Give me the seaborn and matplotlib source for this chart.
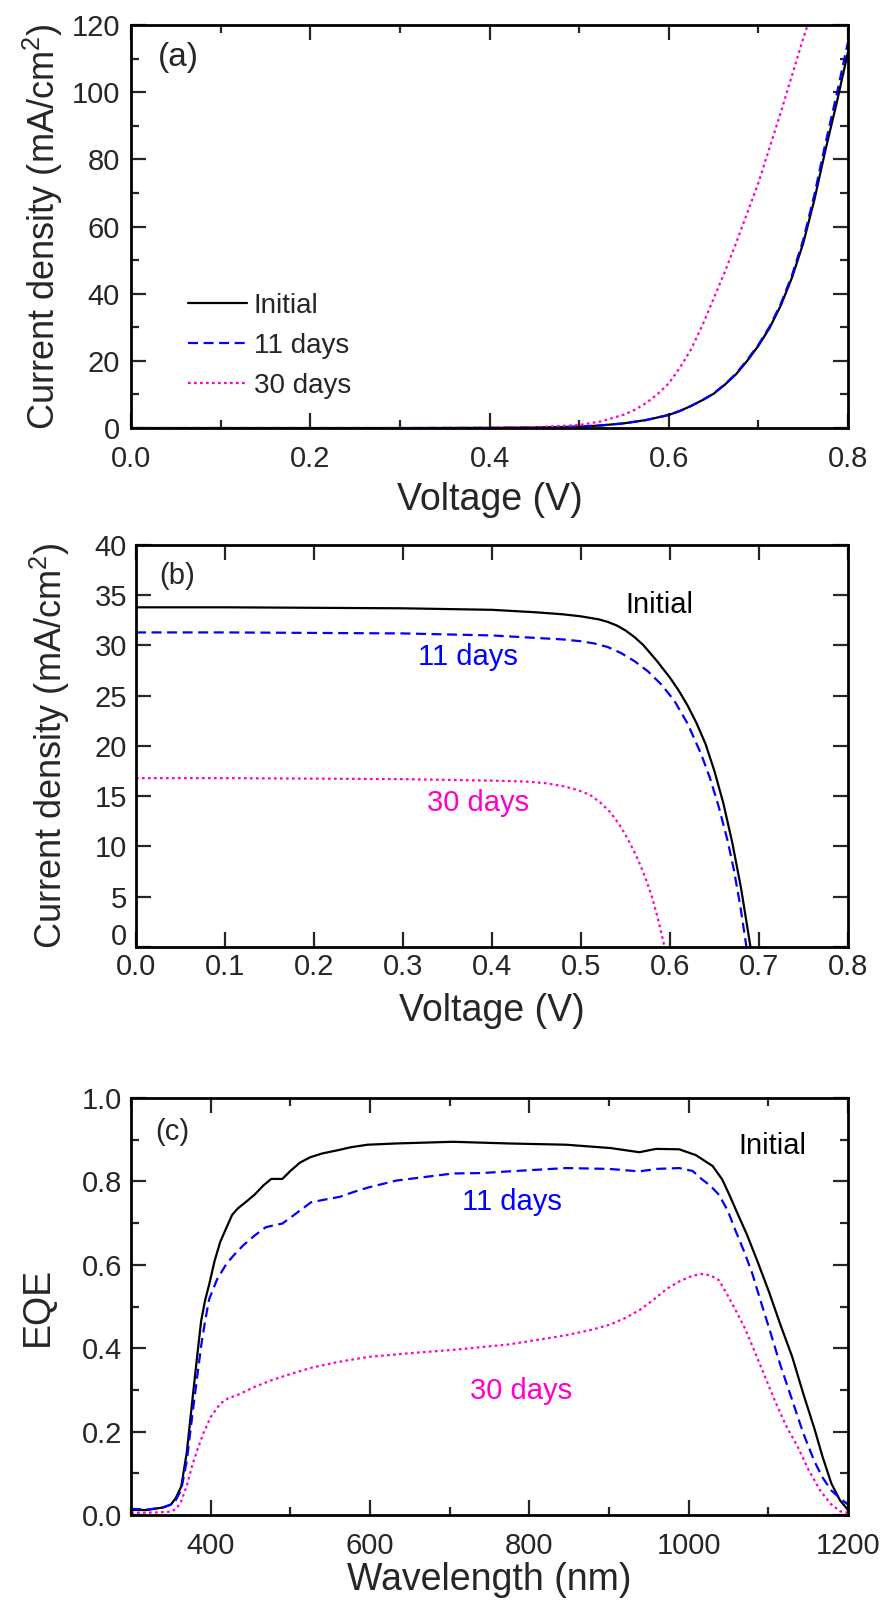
import numpy as np
import pandas as pd
import matplotlib
matplotlib.use("Agg")
import matplotlib.pyplot as plt
import matplotlib.transforms as mtransforms
import seaborn as sns
from matplotlib.ticker import MultipleLocator, FormatStrFormatter

# dark J-V (panel a)
v_dark = [0.0, 0.1, 0.2, 0.3, 0.4, 0.45, 0.5, 0.525, 0.55, 0.575, 0.6, 0.6125, 0.625, 0.6375, 0.65, 0.6625, 0.675,
          0.6875, 0.7, 0.7125, 0.725, 0.7375, 0.75, 0.7625, 0.775, 0.7875, 0.8]
j_dark_init = [0.0, 0.0, 0.0, 0.0, 0.05, 0.15, 0.4, 0.8, 1.4, 2.4, 3.9, 5.1, 6.6, 8.3, 10.2, 12.9, 16.0,
               20.0, 24.5, 29.8, 36.5, 44.8, 55.0, 68.0, 83.0, 97.0, 112.0]
j_dark_11 = [0.0, 0.0, 0.0, 0.0, 0.05, 0.15, 0.4, 0.8, 1.4, 2.4, 3.9, 5.1, 6.6, 8.3, 10.3, 13.0, 16.2,
             20.3, 24.8, 30.2, 37.0, 45.5, 56.0, 69.5, 85.0, 99.5, 115.0]
v_dark30 = [0.0, 0.1, 0.2, 0.3, 0.4, 0.45, 0.5, 0.525, 0.55, 0.5625, 0.575, 0.5875, 0.6, 0.6125, 0.625, 0.6375,
            0.65, 0.6625, 0.675, 0.6875, 0.7, 0.7125, 0.725, 0.7375, 0.75, 0.755]
j_dark_30 = [0.0, 0.0, 0.0, 0.0, 0.08, 0.25, 0.9, 2.0, 4.0, 5.5, 7.5, 10.1, 13.3, 18.0, 23.5, 30.6,
             38.5, 46.5, 55.0, 64.0, 73.0, 83.5, 94.0, 105.0, 116.0, 120.0]

# illuminated J-V (panel b)
v_init = [0.0, 0.1, 0.2, 0.3, 0.4, 0.45, 0.48, 0.5, 0.52, 0.53, 0.54, 0.55, 0.56, 0.57, 0.585, 0.6, 0.61, 0.62,
          0.63, 0.64, 0.65, 0.66, 0.67, 0.68, 0.6905]
j_init = [33.8, 33.8, 33.75, 33.7, 33.55, 33.3, 33.1, 32.9, 32.6, 32.35, 32.0, 31.5, 30.85, 30.05, 28.5, 26.8,
          25.5, 24.0, 22.25, 20.2, 17.5, 14.3, 10.4, 5.8, 0.0]
v_11 = [0.0, 0.1, 0.2, 0.3, 0.4, 0.45, 0.48, 0.5, 0.515, 0.53, 0.545, 0.56, 0.575, 0.59, 0.605, 0.62, 0.635,
        0.645, 0.655, 0.665, 0.672, 0.679, 0.686]
j_11 = [31.3, 31.3, 31.25, 31.2, 31.0, 30.75, 30.6, 30.42, 30.2, 29.85, 29.25, 28.45, 27.45, 26.15, 24.5, 22.2,
        19.2, 16.8, 13.9, 10.5, 7.6, 4.1, 0.0]
v_30 = [0.0, 0.1, 0.2, 0.3, 0.4, 0.44, 0.46, 0.48, 0.495, 0.51, 0.522, 0.533, 0.543, 0.552, 0.56, 0.567, 0.574,
        0.58, 0.586, 0.594]
j_30 = [16.8, 16.8, 16.75, 16.7, 16.55, 16.45, 16.3, 16.0, 15.65, 15.15, 14.35, 13.4, 12.2, 10.85, 9.45, 8.1,
        6.5, 4.9, 3.0, 0.0]

# EQE (panel c)
wl_init = [300, 320, 340, 350, 356, 363, 370, 377, 383, 388, 393, 398, 405, 412, 420, 427, 434, 445, 455, 466,
           476, 490, 500, 512, 525, 540, 560, 576, 597, 633, 704, 774, 846, 902, 938, 959, 988, 1009, 1030,
           1042, 1051, 1062, 1073, 1087, 1101, 1115, 1130, 1144, 1158, 1168, 1179, 1190, 1200]
eqe_init = [0.012, 0.012, 0.018, 0.025, 0.04, 0.068, 0.15, 0.275, 0.38, 0.465, 0.515, 0.552, 0.61, 0.655, 0.69,
            0.72, 0.735, 0.752, 0.768, 0.79, 0.806, 0.806, 0.825, 0.845, 0.858, 0.867, 0.875, 0.882, 0.888,
            0.891, 0.895, 0.891, 0.888, 0.880, 0.870, 0.878, 0.877, 0.863, 0.837, 0.805, 0.768, 0.72, 0.673,
            0.605, 0.534, 0.457, 0.379, 0.29, 0.206, 0.14, 0.076, 0.035, 0.012]
wl_11 = [300, 320, 340, 350, 356, 363, 370, 377, 383, 388, 393, 398, 408, 420, 430, 441, 455, 469, 480, 490, 505,
         526, 545, 562, 580, 597, 633, 704, 740, 774, 846, 900, 938, 960, 988, 1005, 1016, 1027, 1038, 1049,
         1059, 1070, 1080, 1090, 1101, 1115, 1130, 1144, 1158, 1168, 1179, 1190, 1200]
eqe_11 = [0.015, 0.013, 0.018, 0.025, 0.035, 0.06, 0.13, 0.24, 0.33, 0.405, 0.465, 0.517, 0.565, 0.603, 0.625,
          0.647, 0.67, 0.690, 0.695, 0.699, 0.72, 0.750, 0.757, 0.763, 0.775, 0.785, 0.802, 0.819, 0.82, 0.824,
          0.832, 0.83, 0.824, 0.83, 0.832, 0.825, 0.806, 0.79, 0.768, 0.73, 0.681, 0.63, 0.578, 0.515, 0.448,
          0.36, 0.275, 0.195, 0.128, 0.09, 0.059, 0.04, 0.025]
wl_30 = [300, 330, 350, 357, 363, 370, 377, 384, 391, 400, 412, 422, 434, 455, 476, 500, 526, 560, 597, 650, 704,
         774, 846, 880, 902, 920, 938, 955, 973, 990, 1005, 1016, 1027, 1038, 1048, 1059, 1070, 1080, 1094,
         1108, 1122, 1137, 1150, 1165, 1178, 1190, 1200]
eqe_30 = [0.005, 0.006, 0.008, 0.015, 0.033, 0.07, 0.12, 0.16, 0.197, 0.235, 0.267, 0.28, 0.288, 0.307, 0.323,
          0.338, 0.353, 0.367, 0.379, 0.388, 0.396, 0.409, 0.431, 0.445, 0.457, 0.472, 0.491, 0.515, 0.543,
          0.562, 0.574, 0.578, 0.575, 0.563, 0.53, 0.491, 0.45, 0.405, 0.34, 0.275, 0.215, 0.163, 0.11, 0.059,
          0.027, 0.009, 0.005]

labels = ["Initial", "11 days", "30 days"]
colors = ["black", "#0000ff", "#ff00cc"]
styles = ["-", (0, (4.5, 2.5)), (0, (1.2, 1.5))]

sns.set_style("ticks")
plt.rcParams["font.family"] = ["Liberation Sans", "DejaVu Sans"]
plt.rcParams["mathtext.fontset"] = "custom"
plt.rcParams["mathtext.rm"] = "Liberation Sans"

fig = plt.figure(figsize=(8.84, 16.02), dpi=100)
ax_a = fig.add_axes([0.1482, 0.7328, 0.8111, 0.2516])
ax_b = fig.add_axes([0.1538, 0.4089, 0.8054, 0.2509])
ax_c = fig.add_axes([0.1482, 0.0543, 0.8111, 0.2603])

lw = 1.6

def style_axes(ax, xpad, ypad):
    for s in ax.spines.values():
        s.set_linewidth(2.0)
        s.set_color("black")
    ax.tick_params(which="both", direction="in", top=True, right=True, width=1.6, labelsize=21)
    ax.tick_params(which="major", length=11)
    ax.tick_params(which="minor", length=6)
    ax.tick_params(axis="x", which="both", pad=xpad)
    ax.tick_params(axis="y", which="both", pad=ypad)

# panel a
dark = [(v_dark, j_dark_init), (v_dark, j_dark_11), (v_dark30, j_dark_30)]
for (x, y), lab, c, ls in zip(dark, labels, colors, styles):
    df = pd.DataFrame({"V": x, "J": y})
    sns.lineplot(data=df, x="V", y="J", ax=ax_a, color=c, linestyle=ls, linewidth=lw, label=lab)
ax_a.set_xlim(0, 0.8)
ax_a.set_ylim(0, 120)
ax_a.xaxis.set_major_locator(MultipleLocator(0.2))
ax_a.xaxis.set_minor_locator(MultipleLocator(0.1))
ax_a.yaxis.set_major_locator(MultipleLocator(20))
ax_a.yaxis.set_minor_locator(MultipleLocator(10))
ax_a.xaxis.set_major_formatter(FormatStrFormatter("%.1f"))
style_axes(ax_a, 12, 8)
ax_a.set_xlabel("Voltage (V)", fontsize=27)
ax_a.set_ylabel(r"Current density (mA/cm$^{2}$)", fontsize=26)
ax_a.xaxis.set_label_coords(0.5, -0.134)
ax_a.yaxis.set_label_coords(-0.092, 0.5)
ax_a.legend(loc="upper left", bbox_to_anchor=(0.08, 0.335), frameon=False, fontsize=20,
            handlelength=2.1, handletextpad=0.25, labelspacing=0.5, borderpad=0, borderaxespad=0)
ax_a.text(0.066, 0.92, "(a)", transform=ax_a.transAxes, fontsize=24, ha="center", va="center")

# panel b
light = [(v_init, j_init), (v_11, j_11), (v_30, j_30)]
for (x, y), lab, c, ls in zip(light, labels, colors, styles):
    df = pd.DataFrame({"V": x, "J": y})
    sns.lineplot(data=df, x="V", y="J", ax=ax_b, color=c, linestyle=ls, linewidth=lw, legend=False)
ax_b.set_xlim(0, 0.8)
ax_b.set_ylim(0, 40)
ax_b.xaxis.set_major_locator(MultipleLocator(0.1))
ax_b.yaxis.set_major_locator(MultipleLocator(5))
ax_b.xaxis.set_major_formatter(FormatStrFormatter("%.1f"))
style_axes(ax_b, 4.5, 6.5)
ax_b.set_xlabel("Voltage (V)", fontsize=27)
ax_b.set_ylabel(r"Current density (mA/cm$^{2}$)", fontsize=26)
ax_b.xaxis.set_label_coords(0.5, -0.114)
ax_b.yaxis.set_label_coords(-0.090, 0.5)
ax_b.text(0.588, 34.0, "Initial", color="black", fontsize=21, ha="center", va="center")
ax_b.text(0.373, 28.9, "11 days", color="#0000ff", fontsize=21, ha="center", va="center")
ax_b.text(0.384, 14.3, "30 days", color="#ff00cc", fontsize=21, ha="center", va="center")
ax_b.text(0.058, 0.923, "(b)", transform=ax_b.transAxes, fontsize=21, ha="center", va="center")

# panel c
eqe = [(wl_init, eqe_init), (wl_11, eqe_11), (wl_30, eqe_30)]
for (x, y), lab, c, ls in zip(eqe, labels, colors, styles):
    df = pd.DataFrame({"wl": x, "eqe": y})
    sns.lineplot(data=df, x="wl", y="eqe", ax=ax_c, color=c, linestyle=ls, linewidth=lw, legend=False)
ax_c.set_xlim(300, 1200)
ax_c.set_ylim(0, 1.0)
ax_c.xaxis.set_major_locator(MultipleLocator(200))
ax_c.xaxis.set_minor_locator(MultipleLocator(100))
ax_c.yaxis.set_major_locator(MultipleLocator(0.2))
ax_c.yaxis.set_minor_locator(MultipleLocator(0.1))
ax_c.yaxis.set_major_formatter(FormatStrFormatter("%.1f"))
style_axes(ax_c, 12, 6.5)
ax_c.set_xlabel("Wavelength (nm)", fontsize=27)
ax_c.set_ylabel("EQE", fontsize=27)
ax_c.xaxis.set_label_coords(0.5, -0.113)
ax_c.yaxis.set_label_coords(-0.105, 0.5)
ax_c.text(1105, 0.885, "Initial", color="black", fontsize=21, ha="center", va="center")
ax_c.text(778, 0.75, "11 days", color="#0000ff", fontsize=21, ha="center", va="center")
ax_c.text(790, 0.297, "30 days", color="#ff00cc", fontsize=21, ha="center", va="center")
ax_c.text(0.057, 0.918, "(c)", transform=ax_c.transAxes, fontsize=21, ha="center", va="center")

# lift the "0" of panel b so it sits just above the x tick labels
fig.canvas.draw()
for t in ax_b.yaxis.get_major_ticks():
    if abs(t.get_loc()) < 1e-9:
        t.label1.set_verticalalignment("bottom")
        t.label1.set_transform(t.label1.get_transform()
                               + mtransforms.ScaledTranslation(0, -3 / 72, fig.dpi_scale_trans))

fig.savefig("out.png", dpi=100)
